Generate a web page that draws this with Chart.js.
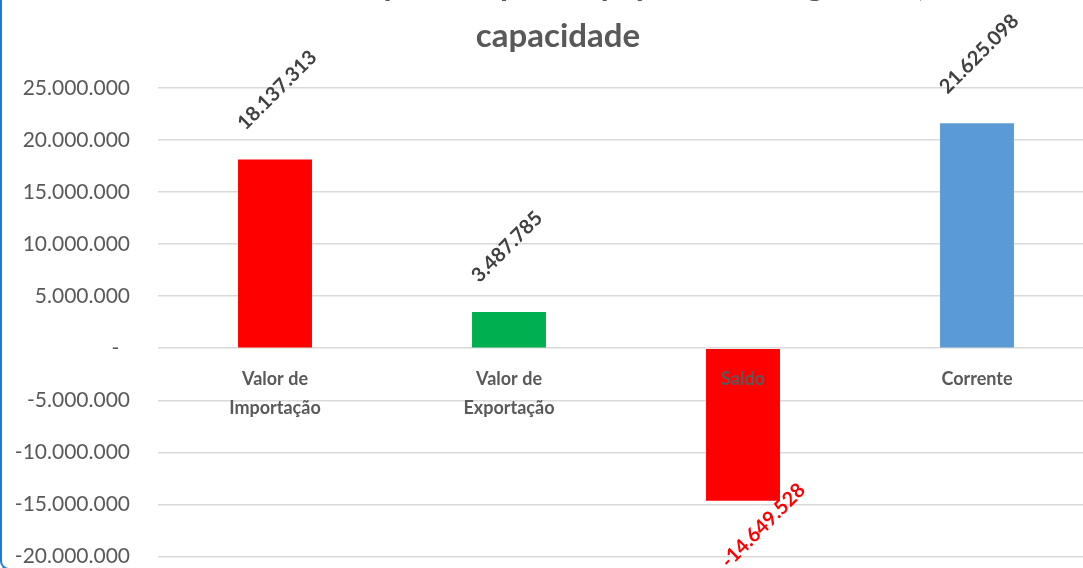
<!DOCTYPE html>
<html>
<head>
<meta charset="utf-8">
<script src="https://cdn.jsdelivr.net/npm/chart.js@4.4.0/dist/chart.umd.min.js"></script>
<style>
html,body{margin:0;padding:0;background:#fff;overflow:hidden;width:1083px;height:568px;}
#wrap{position:absolute;left:0;top:0;width:1116px;height:597px;}
#frame{position:absolute;left:0;top:-20px;width:1200px;height:590px;border-left:2px solid #1F7BD1;border-bottom:2px solid #1F7BD1;border-bottom-left-radius:9px;box-sizing:border-box;pointer-events:none;}
</style>
</head>
<body>
<div id="wrap"><canvas id="c" width="1116" height="597" style="width:1116px;height:597px"></canvas></div>
<div id="frame"></div>
<script>
const titleLines = ['Comércio - Compressor para equipamento frigorífico, de', 'capacidade'];
const categories = [['Valor de', 'Importação'], ['Valor de', 'Exportação'], 'Saldo', 'Corrente'];
const values = [18137313, 3487785, -14649528, 21625098];
const barColors = ['#FF0000', '#00B050', '#FF0000', '#5B9BD5'];
const labelColors = ['#404040', '#404040', '#FF0000', '#404040'];
const yMin = -20000000, yMax = 25000000, yStep = 5000000;

function fmt(n) {
  const s = Math.abs(Math.round(n)).toString().replace(/\B(?=(\d{3})+(?!\d))/g, '.');
  return (n < 0 ? '-' : '') + s;
}

const FONT = 'Lato';

const titlePlugin = {
  id: 'titleDraw',
  afterDraw(chart) {
    const ctx = chart.ctx;
    ctx.save();
    ctx.font = 'bold 33px ' + FONT;
    ctx.fillStyle = '#595959';
    ctx.textAlign = 'center';
    ctx.textBaseline = 'alphabetic';
    ctx.fillText(titleLines[0], 558, -4);
    ctx.fillText(titleLines[1], 558, 47);
    ctx.restore();
  }
};

const labelPlugin = {
  id: 'barLabels',
  afterDraw(chart) {
    const ctx = chart.ctx;
    const meta = chart.getDatasetMeta(0);
    ctx.save();
    ctx.font = 'bold 20px ' + FONT;
    ctx.textBaseline = 'middle';
    meta.data.forEach((bar, i) => {
      const v = values[i];
      const txt = fmt(v);
      ctx.save();
      ctx.fillStyle = labelColors[i];
      if (v >= 0) {
        ctx.translate(bar.x - 34, bar.y - 33);
        ctx.rotate(-Math.PI / 4);
        ctx.textAlign = 'left';
      } else {
        ctx.translate(bar.x + 59, bar.y - 14);
        ctx.rotate(-Math.PI / 4);
        ctx.textAlign = 'right';
      }
      ctx.fillText(txt, 0, 0);
      ctx.restore();
    });
    ctx.restore();
  }
};

function draw() {
  new Chart(document.getElementById('c'), {
    type: 'bar',
    data: {
      labels: categories,
      datasets: [{
        data: values,
        backgroundColor: barColors,
        borderWidth: 0,
        categoryPercentage: 1,
        barPercentage: 0.316
      }]
    },
    options: {
      responsive: false,
      animation: false,
      events: [],
      layout: { padding: { left: 8, right: 22, top: 88, bottom: 12 } },
      plugins: { legend: { display: false }, title: { display: false }, tooltip: { enabled: false } },
      scales: {
        x: {
          axis: 'x',
          position: { y: 0 },
          grid: { display: false, drawTicks: false },
          border: { display: false },
          afterFit(s) { s.height = 0; },
          ticks: {
            z: 1,
            color: '#595959',
            font: { family: FONT, size: 18, weight: 'bold', lineHeight: 1.6 },
            padding: 17,
            maxRotation: 0,
            autoSkip: false
          }
        },
        y: {
          min: yMin,
          max: yMax,
          grid: { color: '#D9D9D9', lineWidth: 1.5, drawTicks: false },
          border: { display: false },
          afterFit(s) { s.width = 150; },
          ticks: {
            stepSize: yStep,
            color: '#595959',
            font: { family: FONT, size: 21 },
            padding: 28,
            callback: (v) => v === 0 ? '-  ' : fmt(v)
          }
        }
      }
    },
    plugins: [titlePlugin, labelPlugin]
  });
}

if (document.fonts && document.fonts.load) {
  Promise.all([
    document.fonts.load('bold 20px Lato'),
    document.fonts.load('21px Lato')
  ]).then(draw, draw);
} else { draw(); }
</script>
</body>
</html>
